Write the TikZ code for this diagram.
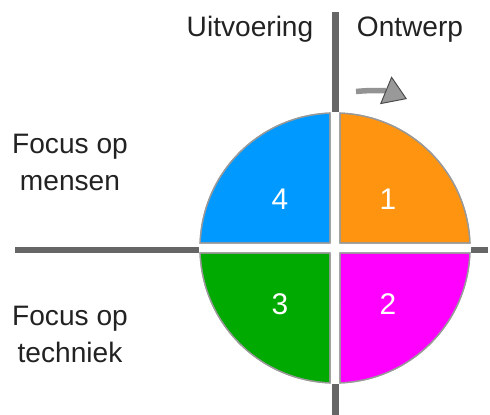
\documentclass[tikz,border=0pt]{standalone}
\usepackage{fontspec}
\setmainfont{Liberation Sans}
\usepackage{tikz}
\usetikzlibrary{arrows.meta}
\usepackage{xcolor}
\definecolor{barcol}{HTML}{666666}
\definecolor{rimcol}{HTML}{999999}
\definecolor{kwart1}{HTML}{FF9410}
\definecolor{kwart2}{HTML}{FF00FF}
\definecolor{kwart3}{HTML}{00AA00}
\definecolor{kwart4}{HTML}{0099FF}
\definecolor{tekst}{HTML}{222222}
\tikzset{
    kwart/.style={draw=rimcol, line width=0.25mm},
    balk/.style={barcol, line width=1.4mm},
    kop/.style={text=tekst, font=\fontsize{16}{20}\selectfont, inner sep=0pt, anchor=base},
    zij/.style={text=tekst, font=\fontsize{16}{21}\selectfont, inner sep=0pt, align=center, anchor=north},
    cijfer/.style={text=white, font=\fontsize{17}{20}\selectfont, inner sep=0pt}
}

\begin{document}
\begin{tikzpicture}[x=0.02cm, y=0.02cm]
                \useasboundingbox (0,0) rectangle (490,-415);
                % assen
                \draw[balk] (335.5,-12) -- (335.5,-415);
                \draw[balk] (15,-250) -- (488,-250);
                \fill[white] (335,-248) circle (136);
                % kwadranten
                \fill[kwart, fill=kwart1] (340,-243) -- (340,-113.1)
                    arc[start angle=87.88, end angle=2.12, radius=135] -- cycle;
                \fill[kwart, fill=kwart2] (340,-253) -- (469.9,-253)
                    arc[start angle=-2.12, end angle=-87.88, radius=135] -- cycle;
                \fill[kwart, fill=kwart3] (330,-253) -- (330,-382.9)
                    arc[start angle=-92.12, end angle=-177.88, radius=135] -- cycle;
                \fill[kwart, fill=kwart4] (330,-243) -- (200.1,-243)
                    arc[start angle=177.88, end angle=92.12, radius=135] -- cycle;
                \draw[kwart] (340,-243) -- (340,-113.1)
                    arc[start angle=87.88, end angle=2.12, radius=135] -- cycle;
                \draw[kwart] (340,-253) -- (469.9,-253)
                    arc[start angle=-2.12, end angle=-87.88, radius=135] -- cycle;
                \draw[kwart] (330,-253) -- (330,-382.9)
                    arc[start angle=-92.12, end angle=-177.88, radius=135] -- cycle;
                \draw[kwart] (330,-243) -- (200.1,-243)
                    arc[start angle=177.88, end angle=92.12, radius=135] -- cycle;
                \node[cijfer] (een) at (388,-199) {1};
                \node[cijfer] (twee) at (388,-304) {2};
                \node[cijfer] (drie) at (280,-304) {3};
                \node[cijfer] (vier) at (280,-199) {4};
                % teksten
                \node[kop] (uitv) at (250,-37) {Uitvoering};
                \node[kop] (ontw) at (410,-37) {Ontwerp};
                \node[zij] (mensen) at (70,-134) {Focus op\\mensen};
                \node[zij] (techniek) at (70,-306) {Focus op\\techniek};
                % pijl
                \coordinate (pstart) at (356,-91.5);
                \coordinate (peind) at (407,-99);
                \draw[line width=1.1mm, color=gray!85,
                    -{Triangle[length=4.6mm, width=6mm, fill=gray!80, color=gray!60!black, line width=0.2mm]}]
                    (pstart) to[bend left=14] (peind);
            \end{tikzpicture}
\end{document}
